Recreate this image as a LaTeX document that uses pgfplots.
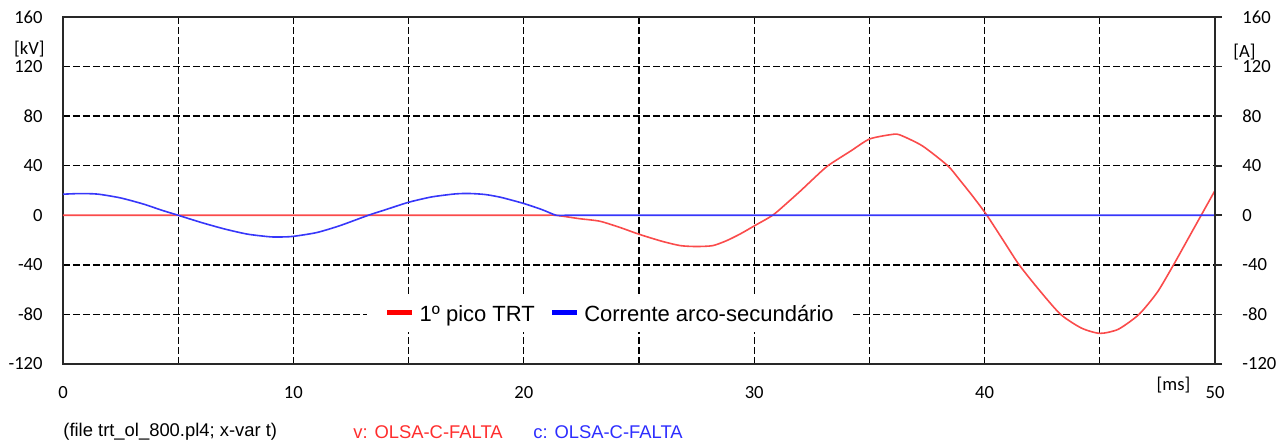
\documentclass[border=0pt]{standalone}
\usepackage{pgfplots}
\pgfplotsset{compat=1.18}
\usepackage{pgfplotstable}
\usepackage{fontspec}
\setmainfont{Liberation Sans}
\newfontfamily\tickfont{Carlito}

\definecolor{vred}{RGB}{250,75,75}
\definecolor{cblue}{RGB}{55,55,250}
\definecolor{axisgray}{RGB}{40,40,40}
\definecolor{txtred}{RGB}{255,45,45}
\definecolor{txtblue}{RGB}{45,45,255}

% v: OLSA-C-FALTA  [kV]
\pgfplotstableread{
t     v
0     0
5     0
10    0
15    0
20    0
21.0  0
21.4  0
22.4  -2.7
23.3  -4.8
24.2  -10
25.0  -15.3
26.0  -21
26.8  -24.5
27.5  -25.2
28.2  -24.5
28.8  -20.5
29.4  -15
30.0  -8.6
30.8  0
31.4  9.5
32.0  19.5
32.6  30
33.2  40
34.2  52
35.0  61.5
35.9  65
36.3  65
37.3  56
38.4  40
38.9  29
39.5  15
40.1  0
40.8  -20
41.5  -40
42.4  -61
43.3  -80
44.2  -91
45.0  -95.3
45.8  -92
46.7  -80
47.5  -62
48.2  -40
48.8  -20
49.4  0
50.0  20
}\voltage

% c: OLSA-C-FALTA  [A]
\pgfplotstableread{
t     c
0     17.0
0.7   17.5
1.5   17.1
2.5   14.0
3.5   9.0
4.3   4.0
5.0   0
6.0   -5.8
7.0   -11.0
8.0   -15.2
9.0   -17.4
9.5   -17.5
10.0  -17.0
11.0  -14.0
12.0  -8.5
13.25 0
14.0  4.5
15.0  10.5
16.0  14.8
17.0  17.2
17.6  17.6
18.3  16.8
19.0  14.5
20.0  9.5
20.8  4.5
21.4  0
21.8  0
23    0
26    0
30    0
35    0
40    0
45    0
50.0  0
}\current

\pgfplotsset{
  emtp/.style={
    at={(31.5pt,42pt)}, anchor=south west,
    scale only axis, width=576pt, height=173.5pt,
    xmin=0, xmax=50, ymin=-120, ymax=160,
    ytick={-120,-80,...,160},
    yticklabels={-120,-80,-40,0,40,80,120,160},
    axis line style={axisgray, line width=0.85pt},
    ticklabel style={font=\tickfont\fontsize{9.3}{11}\selectfont},
  }
}

\begin{document}
\begin{tikzpicture}
\path[use as bounding box] (0,0) rectangle (643pt,224pt);

\begin{axis}[
  emtp,
  xtick={0,5,...,50},
  xticklabels={0,,10,,20,,30,,40,,50},
  grid=major,
  major grid style={black, dash pattern=on 3.3pt off 1.7pt, line width=0.65pt},
  major tick style={draw=none},
  xticklabel style={anchor=center, yshift=-14.5pt},
  yticklabel style={anchor=east, inner xsep=0pt, xshift=-10pt},
  legend columns=-1,
  legend style={
    at={(0.4744,0.142)}, anchor=center,
    draw=none, fill=white,
    font=\fontsize{11}{13}\selectfont,
    inner xsep=9pt, inner ysep=3pt,
    nodes={inner xsep=0pt, inner ysep=1pt},
    /tikz/every even column/.append style={column sep=7.5pt},
    /tikz/every odd column/.append style={column sep=2.5pt},
  },
  legend image code/.code={\draw[#1, line width=2.2pt] (0pt,1.2pt) -- (12.5pt,1.2pt);},
]
\addplot[vred, line width=0.8pt, smooth, tension=0.4, forget plot] table[x=t, y=v] {\voltage};
\addplot[cblue, line width=0.8pt, smooth, tension=0.4, forget plot] table[x=t, y=c] {\current};
\addlegendimage{red}
\addlegendentry{1º pico TRT}
\addlegendimage{blue}
\addlegendentry{Corrente arco-secundário}
\end{axis}

% right-hand current scale
\begin{axis}[
  emtp,
  axis x line=none,
  axis y line*=right,
  tick align=outside,
  major tick length=3.5pt,
  major tick style={axisgray, line width=0.85pt},
  yticklabel style={anchor=west, inner xsep=0pt, xshift=10pt},
]
\end{axis}

% units and footer
\node[anchor=east, inner sep=0pt, font=\tickfont\fontsize{9.3}{11}\selectfont] at (22.5pt,199.5pt) {[kV]};
\node[anchor=west, inner sep=0pt, font=\tickfont\fontsize{9.3}{11}\selectfont] at (616.5pt,198pt) {[A]};
\node[anchor=center, inner sep=0pt, font=\tickfont\fontsize{9.3}{11}\selectfont] at (586.75pt,31.5pt) {[ms]};

\node[anchor=west, inner sep=0pt, font=\fontsize{9.2}{11}\selectfont] at (31.5pt,8pt) {(file trt\_ol\_800.pl4; x-var t)};
\node[anchor=west, inner sep=0pt, text=txtred, font=\fontsize{9.2}{11}\selectfont] at (176.5pt,8pt) {v: OLSA-C-FALTA};
\node[anchor=west, inner sep=0pt, text=txtblue, font=\fontsize{9.2}{11}\selectfont] at (266.5pt,8pt) {c: OLSA-C-FALTA};
\end{tikzpicture}
\end{document}
